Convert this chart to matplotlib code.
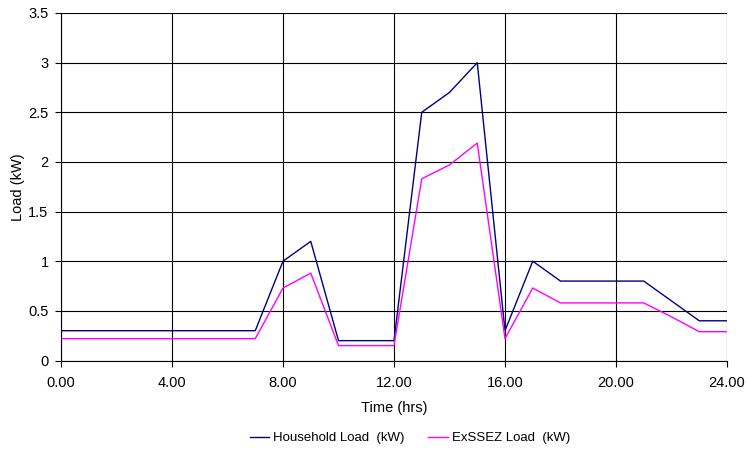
import matplotlib.pyplot as plt

plt.rcParams["font.family"] = ["Liberation Sans", "DejaVu Sans"]

# ---------- Data ----------
hours = list(range(25))
household = [0.3, 0.3, 0.3, 0.3, 0.3, 0.3, 0.3, 0.3, 1.0, 1.2, 0.2, 0.2, 0.2,
             2.5, 2.7, 3.0, 0.3, 1.0, 0.8, 0.8, 0.8, 0.8, 0.6, 0.4, 0.4]
exssez = [0.22, 0.22, 0.22, 0.22, 0.22, 0.22, 0.22, 0.22, 0.73, 0.88, 0.15, 0.15, 0.15,
          1.83, 1.97, 2.19, 0.22, 0.73, 0.58, 0.58, 0.58, 0.58, 0.44, 0.29, 0.29]
x_ticks = [0, 4, 8, 12, 16, 20, 24]
y_ticks = [0, 0.5, 1, 1.5, 2, 2.5, 3, 3.5]

# ---------- Plot ----------
fig = plt.figure(figsize=(7.48, 4.5), dpi=100)
ax = fig.add_axes([61 / 748, 1 - 360.5 / 450, 666 / 748, 347.5 / 450])

ax.plot(hours, household, color="#000080", lw=1.0, label="Household Load  (kW)")
ax.plot(hours, exssez, color="#FF00FF", lw=1.0, label="ExSSEZ Load  (kW)")

ax.set_xlim(0, 24)
ax.set_ylim(0, 3.5)
ax.set_xticks(x_ticks)
ax.set_xticklabels([f"{t:.2f}" for t in x_ticks])
ax.set_yticks(y_ticks)
ax.set_yticklabels(["0", "0.5", "1", "1.5", "2", "2.5", "3", "3.5"])
ax.tick_params(labelsize=10.5, length=4, width=0.8, color="black", pad=5)
ax.tick_params(axis="x", pad=7)

ax.grid(True, color="black", lw=0.8)
ax.set_axisbelow(True)
for side in ["top", "right"]:
    ax.spines[side].set_visible(False)
for side in ["left", "bottom"]:
    ax.spines[side].set_color("black")
    ax.spines[side].set_linewidth(0.8)

ax.set_xlabel("Time (hrs)", fontsize=10.5, labelpad=8)
ax.set_ylabel("Load (kW)", fontsize=10.5, labelpad=2)

fig.legend(loc="center", bbox_to_anchor=(410 / 748, 1 - 438 / 450), ncol=2, frameon=False,
           fontsize=9.5, handlelength=1.5, handletextpad=0.3, columnspacing=1.8)

fig.savefig("out.png", dpi=100)
